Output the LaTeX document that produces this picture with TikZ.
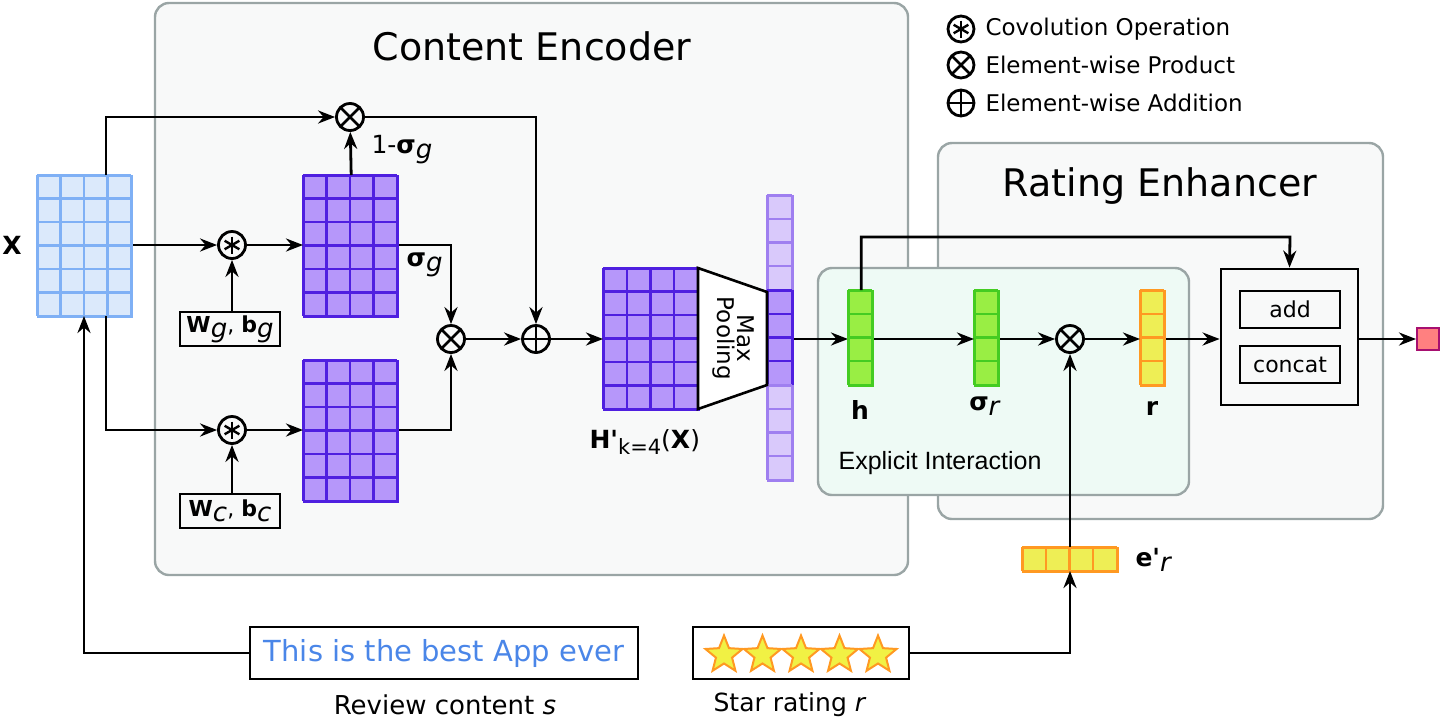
\documentclass[tikz,border=0pt]{standalone}
\usepackage{fontspec}
\setmainfont{DejaVu Sans}
\newfontfamily\narrow{Liberation Sans}
\usetikzlibrary{calc,shapes.geometric,arrows.meta}
\definecolor{bluef}{HTML}{DBE9FB}\definecolor{blued}{HTML}{7FB0F5}
\definecolor{purf}{HTML}{B697FA}\definecolor{purd}{HTML}{4F1FE0}
\definecolor{purl}{HTML}{D9C9FB}\definecolor{purld}{HTML}{9F7FF0}
\definecolor{grf}{HTML}{99EE44}\definecolor{grd}{HTML}{44CC22}
\definecolor{orf}{HTML}{EEEE55}\definecolor{ord}{HTML}{FF9922}
\definecolor{boxg}{HTML}{9AA5A5}\definecolor{boxf}{HTML}{F8F9F9}
\definecolor{eif}{HTML}{EEFAF5}
\newcommand\sub[1]{\raisebox{-5pt}{\textit{\fontsize{26}{26}\selectfont #1}}}
\newcommand\cellgrid[9]{%
 \pgfmathsetmacro\gw{#4*#6}\pgfmathsetmacro\gh{#5*#7}%
 \node[draw=#9,fill=#8,line width=2.4pt,inner sep=0,minimum width=\gw pt,minimum height=\gh pt,anchor=north west] (#1) at (#2,#3) {};
 \foreach \i in {0,...,#4} \draw[#9,line width=2.4pt] ($(#1.north west)+(\i*#6,0)$) -- ++(0,\gh);
 \foreach \j in {0,...,#5} \draw[#9,line width=2.4pt] ($(#1.north west)+(0,\j*#7)$) -- ++(\gw,0);
}
\begin{document}
\begin{tikzpicture}[x=1pt,y=-1pt,
 ar/.style={line width=2.8pt,-{Stealth[length=17pt,width=13pt]}},
 op/.style={circle,draw,line width=2.8pt,minimum size=27pt,inner sep=0},
 otimes/.style={op,path picture={\draw[line width=2.6pt] ([shift={(45:14pt)}]path picture bounding box.center)--([shift={(225:14pt)}]path picture bounding box.center) ([shift={(135:14pt)}]path picture bounding box.center)--([shift={(-45:14pt)}]path picture bounding box.center);}},
 oplus/.style={op,path picture={\draw[line width=2.6pt] ([shift={(0:14pt)}]path picture bounding box.center)--([shift={(180:14pt)}]path picture bounding box.center) ([shift={(90:14pt)}]path picture bounding box.center)--([shift={(-90:14pt)}]path picture bounding box.center);}},
 conv/.style={op,path picture={\foreach \a in {90,150,210}\draw[line width=2.4pt] ([shift={(\a:8.5pt)}]path picture bounding box.center)--([shift={(\a+180:8.5pt)}]path picture bounding box.center);}},
 wbox/.style={draw,line width=2.8pt,inner sep=0,font=\fontsize{22}{24}\selectfont},
 panel/.style={rounded corners=14pt,draw=boxg,line width=2.4pt,fill=boxf},
 lab/.style={font=\fontsize{25}{27}\selectfont},
 leg/.style={font=\fontsize{23}{25}\selectfont,anchor=west},
 star5/.style={star,star points=5,star point ratio=2.3,minimum size=39pt,inner sep=0,fill=orf!80!yellow,draw=ord,line width=2pt}
]
\useasboundingbox (0,0) rectangle (1442,721);
% panels
\draw[panel] (155,3) rectangle (908,575);
\draw[panel] (938,143) rectangle (1383,519);
\draw[panel,fill=eif] (818,268) rectangle (1189,495);
\node[font=\fontsize{38}{42}\selectfont] (ceT) at (532,46) {Content Encoder};
\node[font=\fontsize{38}{42}\selectfont] (reT) at (1160,186) {Rating Enhancer};
\node[font=\narrow\fontsize{25}{27}\selectfont] (eiT) at (940,463) {Explicit Interaction};
% legend
\node[conv,minimum size=26pt] (l1) at (961,29) {};
\node[otimes,minimum size=26pt] (l2) at (961,65) {};
\node[oplus,minimum size=26pt] (l3) at (961,103) {};
\node[leg] (t1) at (982,29) {Covolution Operation};
\node[leg] (t2) at (982,65) {Element-wise Product};
\node[leg] (t3) at (982,103) {Element-wise Addition};
% matrices
\cellgrid{X}{37}{175}{4}{6}{23.5}{23.5}{bluef}{blued}
\node[font=\bfseries\fontsize{25}{27}\selectfont] (Xl) at (12,245) {X};
\cellgrid{G}{303}{175}{4}{6}{23.5}{23.5}{purf}{purd}
\cellgrid{C}{303}{360}{4}{6}{23.5}{23.5}{purf}{purd}
\cellgrid{H}{603}{268}{4}{6}{23.75}{23.5}{purf}{purd}
\cellgrid{vt}{767}{195}{1}{4}{25}{23.75}{purl}{purld}
\cellgrid{vec}{767}{290}{1}{4}{25}{23.75}{purf}{purd}
\cellgrid{vb}{767}{385}{1}{4}{25}{23.75}{purl}{purld}
\draw[line width=2.6pt,fill=white] (698,268) -- (767,292) -- (767,385) -- (698,409) -- cycle;
\node[rotate=-90,align=center,font=\fontsize{23}{23}\selectfont] (mp) at (733,338.5) {Max\\[-3pt]Pooling};
\node[lab,anchor=west] (Hl) at (586,442) {\textbf{H\textquotesingle}\raisebox{-6pt}{\fontsize{21}{21}\selectfont k=4}(\textbf{X})};
% ops
\node[conv] (c1) at (232,245) {};
\node[conv] (c2) at (232,430) {};
\node[otimes] (o1) at (350,117) {};
\node[otimes] (o2) at (451,339) {};
\node[oplus] (p1) at (536,339) {};
\node[wbox,minimum width=100pt,minimum height=34pt] (wg) at (230,329) {\textbf{W}\sub{g}, \textbf{b}\sub{g}};
\node[wbox,minimum width=100pt,minimum height=34pt] (wc) at (230,511) {\textbf{W}\sub{c}, \textbf{b}\sub{c}};
\node[lab,anchor=west] (sg1) at (368,150) {1-\textbf{σ}\sub{g}};
\node[lab,anchor=west] (sg2) at (403,265) {\textbf{σ}\sub{g}};
% connectors left part
\draw[ar] (106,175) |- (o1);
\draw[ar] (X.east|-c1) -- (c1);
\draw[ar] (c1) -- (G.west|-c1);
\draw[ar] (106,316) |- (c2);
\draw[ar] (c2) -- (C.west|-c2);
\draw[ar] (wg.north-|c1) -- (c1);
\draw[ar] (wc.north-|c2) -- (c2);
\draw[ar] (G.north) -- (o1);
\draw[ar] (G.east|-c1) -| (o2);
\draw[ar] (C.east|-c2) -| (o2);
\draw[ar] (o1) -| (p1);
\draw[ar] (o2) -- (p1);
\draw[ar] (p1) -- (H.west|-p1);
\draw[ar] (vec.east|-p1) -- (848,339);
% right part
\cellgrid{h}{848}{290}{1}{4}{24}{23.75}{grf}{grd}
\cellgrid{s}{974}{290}{1}{4}{24}{23.75}{grf}{grd}
\cellgrid{r}{1140}{290}{1}{4}{24}{23.75}{orf}{ord}
\node[otimes] (o3) at (1070,339) {};
\node[font=\bfseries\fontsize{25}{27}\selectfont] (hl) at (860,410) {h};
\node[lab] (sl) at (985,406) {\textbf{σ}\sub{r}};
\node[font=\bfseries\fontsize{25}{27}\selectfont] (rl) at (1152,408) {r};
\draw[ar] (h.east|-o3) -- (s.west|-o3);
\draw[ar] (s.east|-o3) -- (o3);
\draw[ar] (o3) -- (r.west|-o3);
\node[draw,line width=2.8pt,minimum width=137pt,minimum height=136pt,inner sep=0] (fb) at (1289.5,337) {};
\node[wbox,minimum width=100pt,minimum height=37pt] (add) at (1290,309.5) {add};
\node[wbox,minimum width=100pt,minimum height=37pt] (cat) at (1290,364.5) {concat};
\draw[ar] (r.east|-o3) -- (fb.west|-o3);
\draw[ar] (h.north) |- (1290,237) -- (fb.north);
\node[draw=purd!50!red,fill=red!50!white,line width=2pt,minimum size=22pt,inner sep=0] (out) at (1428,339) {};
\draw[ar] (fb.east|-o3) -- (out);
\cellgrid{e}{1022}{547}{4}{1}{23.75}{24}{orf}{ord}
\node[lab,anchor=west] (el) at (1132,560) {\textbf{e\textquotesingle}\sub{r}};
\draw[ar] (1070,547) -- (o3);
% bottom
\node[draw,line width=2.8pt,minimum width=388pt,minimum height=52pt,inner sep=0,font=\fontsize{29}{31}\selectfont] (rev) at (444,653) {\color[HTML]{4A86E8}This is the best App ever};
\node[draw,line width=2.8pt,minimum width=216pt,minimum height=52pt,inner sep=0] (sb) at (801,653) {};
\foreach \k/\xx in {1/724,2/762.5,3/801,4/839.5,5/878} \node[star5] (st\k) at (\xx,655) {};
\node[font=\fontsize{26}{28}\selectfont] (rc) at (445,705) {Review content \textit{s}};
\node[lab] (sr) at (790,705) {Star rating \textit{r}};
\draw[ar] (rev.west) -| (84,316);
\draw[ar] (sb.east) -| (1070,571);
\end{tikzpicture}
\end{document}
